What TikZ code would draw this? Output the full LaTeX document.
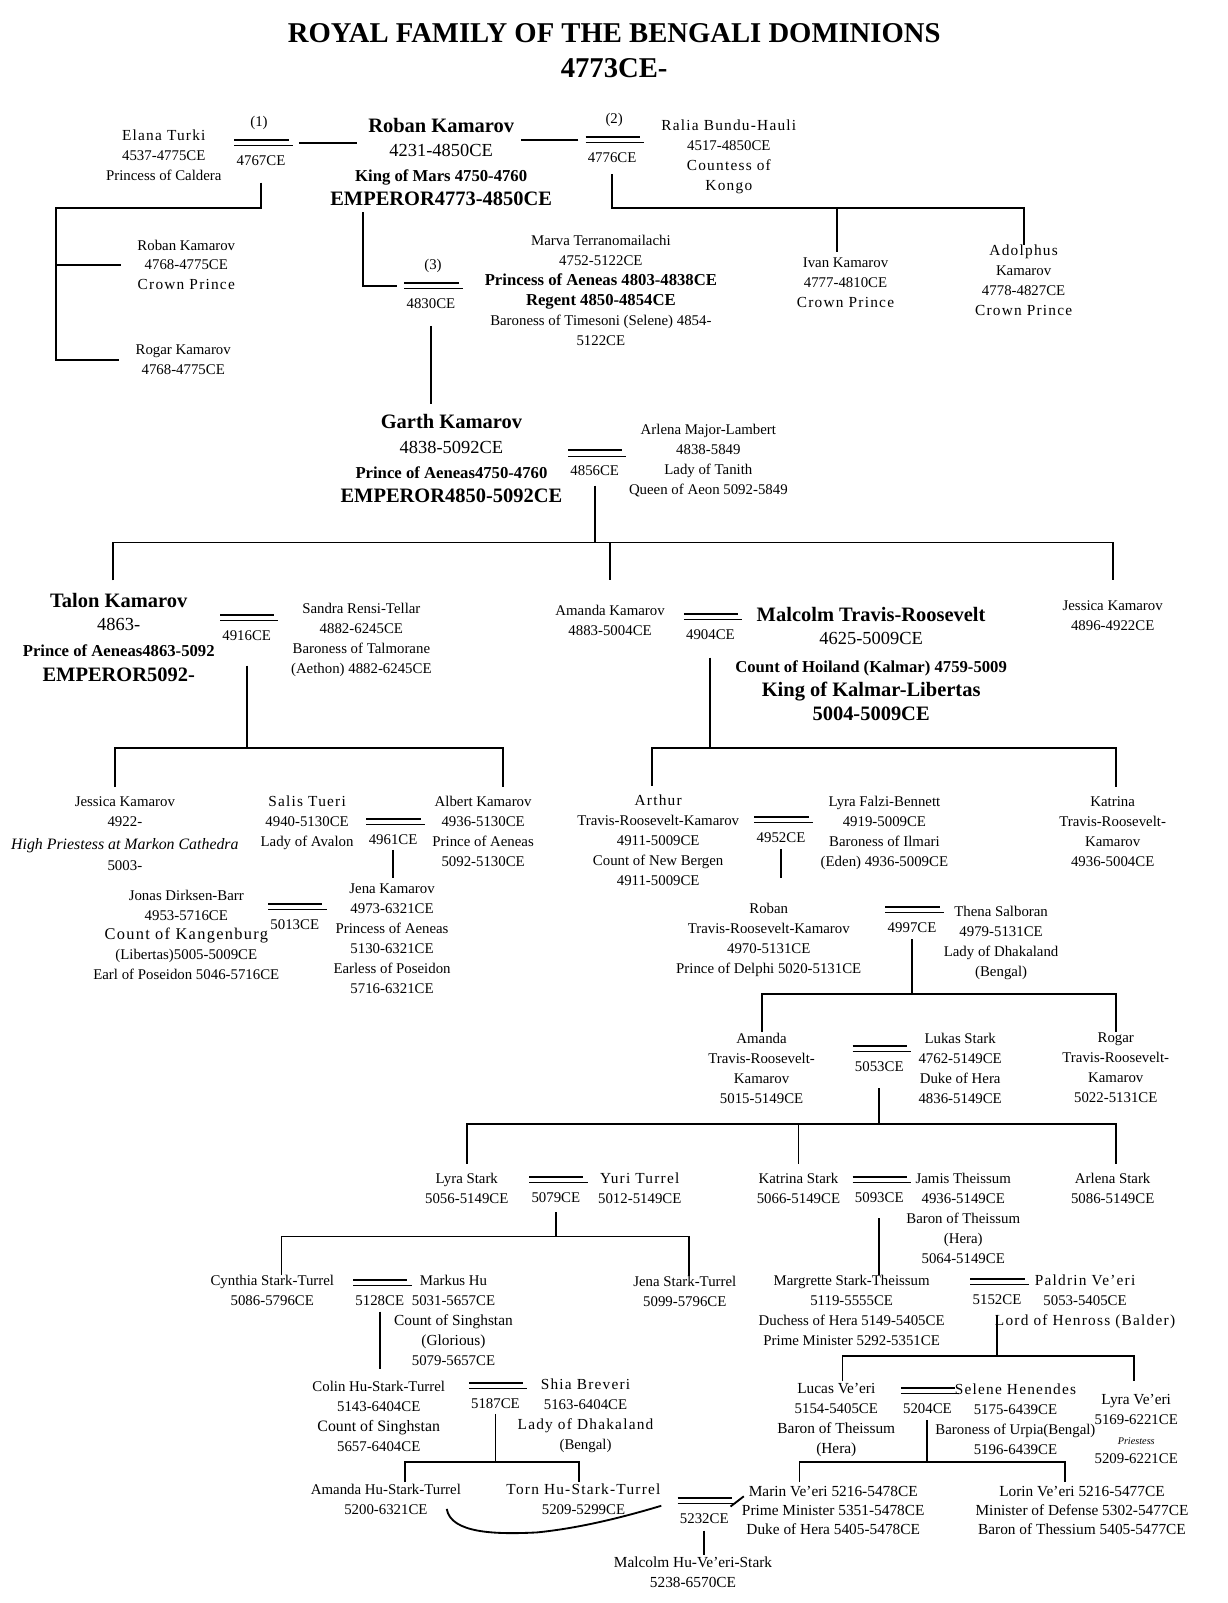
\documentclass[tikz,border=0pt]{standalone}
\usepackage{fontspec}
\setmainfont{Liberation Serif}
\newfontfamily\widefam[LetterSpace=8]{Liberation Serif}
\usetikzlibrary{calc}

\newcommand\wfont{\widefam\fontsize{15}{19.5}\selectfont}
\newcommand\plainL{\fontsize{15}{19.5}\selectfont}
\newcommand\nameB{\fontsize{20}{20}\selectfont\bfseries}
\newcommand\yearL{\fontsize{18}{18}\selectfont}
\newcommand\titleB{\fontsize{16.3}{16}\selectfont\bfseries}
% marriage bars with the year under them
\newcommand\wed[4]{%
  \draw[wedtop] (#2,#3) -- ++(53,0);
  \draw[wedbot] (#2,#3+5.5) -- ++(57,0);
  \coordinate (#1-w) at (#2-7,#3+3);
  \coordinate (#1-e) at (#2+63,#3+3);
  \node[date] (#1) at (#2+26,#3+25) {#4};}

\begin{document}
\begin{tikzpicture}[x=1pt,y=-1pt,
    txt/.style={align=center,inner sep=0pt,anchor=north,font=\fontsize{14.5}{19.5}\selectfont},
    date/.style={inner sep=0pt,anchor=base,font=\fontsize{14.5}{19.5}\selectfont},
    tree/.style={line width=1.8pt},
    wedtop/.style={line width=2pt},
    wedbot/.style={line width=1pt}]
  \useasboundingbox (0,0) rectangle (1199,1566);

  \node[txt,font=\fontsize{28}{34}\selectfont\bfseries] (title) at (600,23)
    {ROYAL FAMILY OF THE BENGALI DOMINIONS\\4773CE-};

  % first generation
  \node[txt] (roban) at (431,115) {{\nameB Roban Kamarov}\\[4.5pt]{\yearL 4231-4850CE}\\[5pt]{\titleB King of Mars 4750-4760}\\[4pt]{\nameB EMPEROR4773-4850CE}};
  \node[txt] (elana) at (160,126.5) {{\wfont Elana Turki}\\4537-4775CE\\Princess of Caldera};
  \node[date] (n1) at (253,124) {(1)};
  \wed{m1}{229}{137}{4767CE}
  \node[date] (n2) at (600,121) {(2)};
  \wed{m2}{572}{134}{4776CE}
  \node[txt] (ralia) at (712,117) {{\wfont Ralia Bundu-Hauli}\\4517-4850CE\\{\wfont Countess of}\\{\wfont Kongo}};
  \node[txt] (robanjr) at (182,234) {Roban Kamarov\\4768-4775CE\\{\wfont Crown Prince}};
  \node[txt] (rogarjr) at (179,337) {Rogar Kamarov\\4768-4775CE};
  \node[txt] (ivan) at (826,252) {Ivan Kamarov\\4777-4810CE\\{\wfont Crown Prince}};
  \node[txt] (adolphus) at (1000,239) {{\wfont Adolphus}\\Kamarov\\4778-4827CE\\{\wfont Crown Prince}};
  \node[date] (n3) at (423,263) {(3)};
  \wed{m3}{395}{276}{4830CE}
  \node[txt] (marva) at (587,230) {Marva Terranomailachi\\4752-5122CE\\{\titleB Princess of Aeneas 4803-4838CE}\\{\titleB Regent 4850-4854CE}\\Baroness of Timesoni (Selene) 4854-\\5122CE};

  % second generation
  \node[txt] (garth) at (441,405) {{\nameB Garth Kamarov}\\[4.5pt]{\yearL 4838-5092CE}\\[5pt]{\titleB Prince of Aeneas4750-4760}\\[4pt]{\nameB EMPEROR4850-5092CE}};
  \wed{m4856}{555}{440}{4856CE}
  \node[txt] (arlena) at (692,414) {Arlena Major-Lambert\\4838-5849\\Lady of Tanith\\Queen of Aeon 5092-5849};

  % third generation
  \node[txt] (talon) at (116,579) {{\nameB Talon Kamarov}\\[3.5pt]{\yearL 4863-}\\[6pt]{\titleB Prince of Aeneas4863-5092}\\[5pt]{\nameB EMPEROR5092-}};
  \wed{m4916}{215}{601}{4916CE}
  \node[txt] (sandra) at (353,589) {Sandra Rensi-Tellar\\4882-6245CE\\Baroness of Talmorane\\(Aethon) 4882-6245CE};
  \node[txt] (amanda) at (596,591) {Amanda Kamarov\\4883-5004CE};
  \wed{m4904}{668}{600}{4904CE}
  \node[txt] (malcolm) at (851,593) {{\nameB Malcolm Travis-Roosevelt}\\[3.5pt]{\yearL 4625-5009CE}\\[7pt]{\titleB Count of Hoiland (Kalmar) 4759-5009}\\[4pt]{\nameB King of Kalmar-Libertas}\\[4.5pt]{\nameB 5004-5009CE}};
  \node[txt] (jessica) at (1087,587) {Jessica Kamarov\\4896-4922CE};

  % fourth generation
  \node[txt] (jessica2) at (122,778) {Jessica Kamarov\\4922-\\[3pt]{\itshape\fontsize{15.5}{16}\selectfont High Priestess at Markon Cathedra}\\[1pt]5003-};
  \node[txt] (salis) at (300,777.5) {{\wfont Salis Tueri}\\4940-5130CE\\Lady of Avalon};
  \wed{m4961}{358}{800}{4961CE}
  \node[txt] (albert) at (472,778) {Albert Kamarov\\4936-5130CE\\Prince of Aeneas\\5092-5130CE};
  \node[txt] (jonas) at (182,869) {Jonas Dirksen-Barr\\4953-5716CE\\{\widefam\fontsize{16}{19.5}\selectfont Count of Kangenburg}\\(Libertas)5005-5009CE\\Earl of Poseidon 5046-5716CE};
  \wed{m5013}{262}{883}{5013CE}
  \node[txt] (jena) at (383,863) {Jena Kamarov\\4973-6321CE\\Princess of Aeneas\\5130-6321CE\\Earless of Poseidon\\5716-6321CE};
  \node[txt] (arthur) at (643,776.5) {{\wfont Arthur}\\Travis-Roosevelt-Kamarov\\4911-5009CE\\Count of New Bergen\\4911-5009CE};
  \wed{m4952}{737}{798}{4952CE}
  \node[txt] (lyraf) at (864,778) {Lyra Falzi-Bennett\\4919-5009CE\\Baroness of Ilmari\\(Eden) 4936-5009CE};
  \node[txt] (katrina) at (1087,778) {Katrina\\Travis-Roosevelt-\\Kamarov\\4936-5004CE};

  % fifth generation
  \node[txt] (robantr) at (751,882) {Roban\\Travis-Roosevelt-Kamarov\\4970-5131CE\\Prince of Delphi 5020-5131CE};
  \wed{m4997}{865}{886}{4997CE}
  \node[txt] (thena) at (978,885) {Thena Salboran\\4979-5131CE\\Lady of Dhakaland\\(Bengal)};

  % sixth generation
  \node[txt] (amandatr) at (744,1009) {Amanda\\Travis-Roosevelt-\\Kamarov\\5015-5149CE};
  \wed{m5053}{833}{1022}{5053CE}
  \node[txt] (lukas) at (938,1009) {Lukas Stark\\4762-5149CE\\Duke of Hera\\4836-5149CE};
  \node[txt] (rogartr) at (1090,1009) {Rogar\\Travis-Roosevelt-\\Kamarov\\5022-5131CE};

  % seventh generation
  \node[txt] (lyras) at (456,1146) {Lyra Stark\\5056-5149CE};
  \wed{m5079}{517}{1150}{5079CE}
  \node[txt] (yuri) at (625,1145.5) {{\wfont Yuri Turrel}\\5012-5149CE};
  \node[txt] (katrinas) at (780,1146) {Katrina Stark\\5066-5149CE};
  \wed{m5093}{833}{1150}{5093CE}
  \node[txt] (jamis) at (941,1146) {Jamis Theissum\\4936-5149CE\\Baron of Theissum\\(Hera)\\5064-5149CE};
  \node[txt] (arlenas) at (1087,1146) {Arlena Stark\\5086-5149CE};

  % eighth generation
  \node[txt] (cynthia) at (266,1246) {Cynthia Stark-Turrel\\5086-5796CE};
  \wed{m5128}{345}{1250}{5128CE}
  \node[txt] (markus) at (443,1246) {Markus Hu\\5031-5657CE\\{\plainL Count of Singhstan}\\{\plainL (Glorious)}\\5079-5657CE};
  \node[txt] (jenast) at (669,1247) {Jena Stark-Turrel\\5099-5796CE};
  \node[txt] (margrette) at (832,1246) {Margrette Stark-Theissum\\5119-5555CE\\Duchess of Hera 5149-5405CE\\Prime Minister 5292-5351CE};
  \wed{m5152}{948}{1249}{5152CE}
  \node[txt] (paldrin) at (1060,1245.5) {{\wfont Paldrin Ve’eri}\\5053-5405CE\\{\wfont Lord of Henross (Balder)}};

  % ninth generation
  \node[txt] (colin) at (370,1349) {Colin Hu-Stark-Turrel\\5143-6404CE\\{\fontsize{15.5}{19.5}\selectfont Count of Singhstan}\\5657-6404CE};
  \wed{m5187}{458}{1351}{5187CE}
  \node[txt] (shia) at (572,1346.5) {{\wfont Shia Breveri}\\5163-6404CE\\{\wfont Lady of Dhakaland}\\(Bengal)};
  \node[txt] (lucas) at (817,1351.5) {{\plainL Lucas Ve’eri}\\5154-5405CE\\{\plainL Baron of Theissum}\\{\plainL (Hera)}};
  \wed{m5204}{880}{1356}{5204CE}
  \node[txt] (selene) at (992,1351.5) {{\wfont Selene Henendes}\\5175-6439CE\\Baroness of Urpia(Bengal)\\5196-6439CE};
  \node[txt] (lyrav) at (1110,1361.5) {{\plainL Lyra Ve’eri}\\5169-6221CE\\{\itshape\fontsize{10}{10}\selectfont Priestess}\\5209-6221CE};

  % tenth generation
  \node[txt] (amandahu) at (377,1450) {Amanda Hu-Stark-Turrel\\5200-6321CE};
  \node[txt] (torn) at (570,1449.5) {{\wfont Torn Hu-Stark-Turrel}\\5209-5299CE};
  \wed{m5232}{662}{1463}{5232CE}
  \node[txt,font=\plainL] (marin) at (814,1452) {Marin Ve’eri 5216-5478CE\\[-1pt]Prime Minister 5351-5478CE\\[-1pt]Duke of Hera 5405-5478CE};
  \node[txt,font=\plainL] (lorin) at (1057,1452) {Lorin Ve’eri 5216-5477CE\\[-1pt]Minister of Defense 5302-5477CE\\[-1pt]Baron of Thessium 5405-5477CE};
  \node[txt,font=\plainL] (malcolmhu) at (677,1521) {Malcolm Hu-Ve’eri-Stark\\5238-6570CE};

  % connectors
  \draw[tree] (m1-e) -- ($(m1-e -| roban.west)+(26,0)$);
  \draw[tree] (m2-w) -- ($(m2-w -| roban.east)+(-31,0)$);
  \coordinate (k1) at (55,203);
  \draw[tree] ([yshift=-16pt]m1.south) |- (k1) |- ([xshift=-16pt]robanjr.west);
  \draw[tree] (k1) |- ([xshift=-16pt]rogarjr.west);
  \coordinate (k2) at (598,203);
  \draw[tree] ([yshift=-11pt]m2.south) -- (k2) -| (adolphus.north);
  \draw[tree] ($(k2 -| ivan.north)+(-8,0)$) -- ([xshift=-8pt,yshift=6pt]ivan.north);
  \draw[tree] ([xshift=-76pt,yshift=-6pt]roban.south) |- (m3-w);
  \draw[tree] ([yshift=-17pt]m3.south) -- ($(m3.south |- garth.north)+(0,-10)$);

  \coordinate (k4) at (581,530);
  \draw[tree] ([yshift=-9pt]m4856.south) -- (k4);
  \draw[tree] ([xshift=-6pt,yshift=12pt]talon.north) |- (k4) -| ([yshift=20pt]jessica.north);
  \draw[tree] (k4 -| amanda.north) -- ([yshift=24pt]amanda.north);

  \coordinate (k5) at (241,731);
  \draw[tree] ([yshift=-24pt]m4916.south) -- (k5);
  \draw[tree] ([xshift=-10pt,yshift=9pt]jessica2.north) |- (k5) -| ([xshift=19pt,yshift=9pt]albert.north);
  \coordinate (k6) at (694,731);
  \draw[tree] ([yshift=-17pt]m4904.south) -- (k6);
  \draw[tree] ([xshift=-6pt,yshift=9pt]arthur.north) |- (k6) -| ([xshift=3pt,yshift=9pt]katrina.north);

  \draw[tree] ([yshift=-5pt]m4961.south) -- ($(m4961.south |- jena.north)+(0,-5)$);
  \draw[tree] ([yshift=-6pt]m4952.south) -- ($(m4952.south |- robantr.north)+(0,-24)$);

  \coordinate (k7) at (891,971);
  \draw[tree] ([yshift=-6pt]m4997.south) -- (k7);
  \draw[tree] ([yshift=1pt]amandatr.north) |- (k7) -| ([yshift=1pt]rogartr.north);

  \coordinate (k8) at (859,1098);
  \draw[tree] ([yshift=-16pt]m5053.south) -- (k8);
  \draw[tree] ([yshift=9pt]lyras.north) |- (k8) -| ([xshift=3pt,yshift=9pt]arlenas.north);
  \draw[tree] (k8 -| katrinas.north) -- ([yshift=9pt]katrinas.north);

  \coordinate (k9) at (543,1208);
  \draw[tree] ([yshift=-9pt]m5079.south) -- (k9);
  \draw[tree] ([xshift=9pt]cynthia.north) |- (k9) -| ([xshift=4pt]jenast.north);
  \draw[tree] ([yshift=-15pt]m5093.south) -- (m5093.south |- margrette.north);
  \draw[tree] ([yshift=-6pt]m5128.south) -- ($(m5128.south |- colin.north)+(0,-12)$);

  \coordinate (k10) at (974,1325);
  \draw[tree] ([yshift=-10pt]m5152.south) -- (k10);
  \draw[tree] ([xshift=6pt,yshift=2pt]lucas.north) |- (k10) -| ([xshift=-2pt,yshift=12pt]lyrav.north);

  \coordinate (k11) at (484,1428);
  \draw[tree] ([yshift=-5pt]m5187.south) -- (k11);
  \draw[tree] ([xshift=19pt,yshift=2pt]amandahu.north) |- (k11) -| ([xshift=-4pt,yshift=2pt]torn.north);
  \coordinate (k12) at (906,1428);
  \draw[tree] ([yshift=-6pt]m5204.south) -- (k12);
  \draw[tree] ([xshift=-33pt,yshift=4pt]marin.north) |- (k12) -| ([xshift=-17pt,yshift=4pt]lorin.north);

  \draw[tree] ([yshift=-7pt]m5232.south) -- ($(m5232.south |- malcolmhu.north)+(0,-2)$);
  \draw[tree] ($(marin.west)+(-11,-4)$) -- ($(marin.west)+(2,-14)$);
  \draw[tree] ($(amandahu.east)+(-14,9)$) .. controls +(4,24) and +(-40,2) .. ($(amandahu.east)+(74,32)$)
    .. controls +(40,-4) and +(-40,12) .. ($(m5232-w)+(-9,5)$);
\end{tikzpicture}
\end{document}
